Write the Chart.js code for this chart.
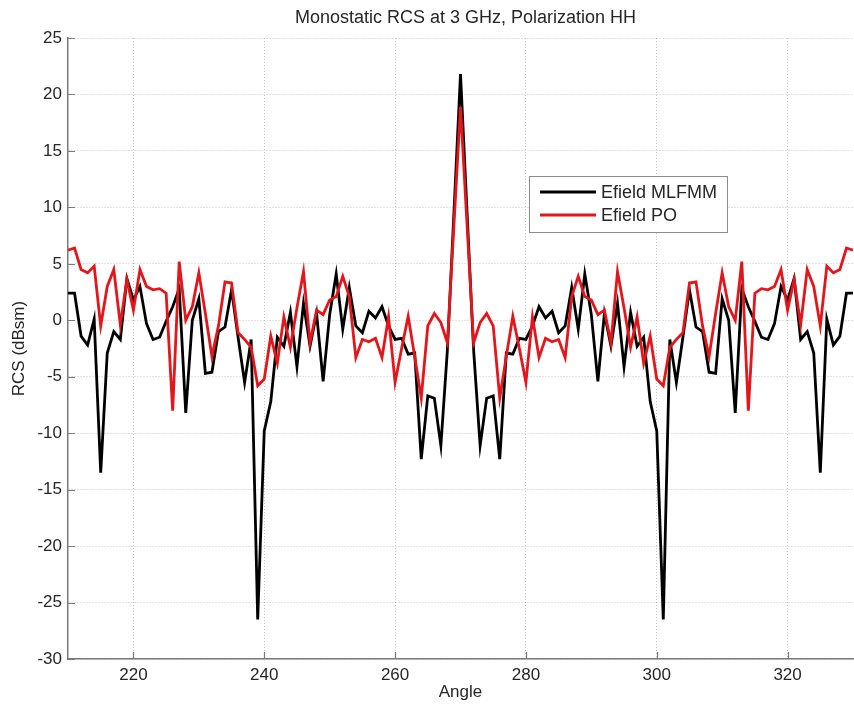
<!DOCTYPE html>
<html lang="en">
<head>
    <meta charset="UTF-8">
    <title>Monostatic RCS at 3 GHz, Polarization HH</title>
    <script src="https://cdn.jsdelivr.net/npm/chart.js"></script>
    <style>
        html, body {
            margin: 0;
            padding: 0;
            background: #fff;
        }
        canvas {
            display: block;
        }
    </style>
</head>
<body>
    <canvas id="rcsChart" width="854" height="709"></canvas>

    <script>
        // angles in degrees, 1 degree step
        const angles = [
            210, 211, 212, 213, 214, 215, 216, 217, 218, 219,
            220, 221, 222, 223, 224, 225, 226, 227, 228, 229,
            230, 231, 232, 233, 234, 235, 236, 237, 238, 239,
            240, 241, 242, 243, 244, 245, 246, 247, 248, 249,
            250, 251, 252, 253, 254, 255, 256, 257, 258, 259,
            260, 261, 262, 263, 264, 265, 266, 267, 268, 269,
            270, 271, 272, 273, 274, 275, 276, 277, 278, 279,
            280, 281, 282, 283, 284, 285, 286, 287, 288, 289,
            290, 291, 292, 293, 294, 295, 296, 297, 298, 299,
            300, 301, 302, 303, 304, 305, 306, 307, 308, 309,
            310, 311, 312, 313, 314, 315, 316, 317, 318, 319,
            320, 321, 322, 323, 324, 325, 326, 327, 328, 329,
            330
        ];

        // Efield MLFMM (dBsm)
        const mlfmm = [
            2.4, 2.4, -1.4, -2.2, 0.1, -13.5, -2.9, -1.0, -1.7, 3.7,
            1.8, 3.0, -0.3, -1.7, -1.5, -0.1, 1.2, 2.8, -8.2, 0.0,
            1.9, -4.7, -4.6, -1.0, -0.6, 2.7, -1.5, -5.5, -1.7, -26.5,
            -9.8, -7.2, -1.5, -2.3, 0.7, -4.1, 1.5, -2.3, 0.6, -5.4,
            0.5, 4.1, -0.8, 2.9, -0.5, -1.1, 0.8, 0.2, 1.2, -0.5,
            -1.7, -1.6, -3.0, -2.9, -12.3, -6.7, -6.9, -11.1, -2.6, 9.6,
            21.8, 9.6, -2.6, -11.1, -6.9, -6.7, -12.3, -2.9, -3.0, -1.6,
            -1.7, -0.5, 1.2, 0.2, 0.8, -1.1, -0.5, 2.9, -0.8, 4.1,
            0.5, -5.4, 0.6, -2.3, 1.5, -4.1, 0.7, -2.3, -1.5, -7.2,
            -9.8, -26.5, -1.7, -5.5, -1.5, 2.7, -0.6, -1.0, -4.6, -4.7,
            1.9, 0.0, -8.2, 2.8, 1.2, -0.1, -1.5, -1.7, -0.3, 3.0,
            1.8, 3.7, -1.7, -1.0, -2.9, -13.5, 0.1, -2.2, -1.4, 2.4,
            2.4
        ];

        // Efield PO (dBsm)
        const po = [
            6.2, 6.4, 4.5, 4.2, 4.8, -0.5, 3.0, 4.5, -0.4, 3.6,
            0.9, 4.5, 3.0, 2.7, 2.8, 2.4, -8.0, 5.2, 0.0, 1.2,
            4.2, 0.6, -3.2, -0.5, 3.4, 3.3, -1.1, -1.7, -2.4, -5.8,
            -5.2, -1.4, -3.8, 0.3, -2.4, 1.1, 4.3, -2.0, 0.9, 0.5,
            1.8, 2.1, 3.9, 2.1, -3.3, -1.7, -1.9, -1.6, -3.3, 0.3,
            -5.5, -2.5, 0.35, -3.2, -6.9, -0.5, 0.6, -0.2, -2.0, 8.5,
            18.9, 8.5, -2.0, -0.2, 0.6, -0.5, -6.9, -3.2, 0.35, -2.5,
            -5.5, 0.3, -3.3, -1.6, -1.9, -1.7, -3.3, 2.1, 3.9, 2.1,
            1.8, 0.5, 0.9, -2.0, 4.3, 1.1, -2.4, 0.3, -3.8, -1.4,
            -5.2, -5.8, -2.4, -1.7, -1.1, 3.3, 3.4, -0.5, -3.2, 0.6,
            4.2, 1.2, 0.0, 5.2, -8.0, 2.4, 2.8, 2.7, 3.0, 4.5,
            0.9, 3.6, -0.4, 4.5, 3.0, -0.5, 4.8, 4.2, 4.5, 6.4,
            6.2
        ];

        const xTicks = [220, 240, 260, 280, 300, 320];
        const yTicks = [-30, -25, -20, -15, -10, -5, 0, 5, 10, 15, 20, 25];

        const seriesNames = ['Efield MLFMM', 'Efield PO'];
        const seriesColors = ['#000000', '#e3161b'];
        const chartTitle = 'Monostatic RCS at 3 GHz, Polarization HH';

        const FONT = '"Liberation Sans", Arial, sans-serif';
        const TEXT = '#262626';
        const AXIS = '#7a7a7a';

        const toPoints = vals => angles.map((a, i) => ({ x: a, y: vals[i] }));

        // title + matlab style inner ticks + legend box
        const decorations = {
            id: 'decorations',
            afterDraw(chart) {
                const { ctx, chartArea, scales } = chart;
                ctx.save();

                // inner tick marks
                ctx.strokeStyle = AXIS;
                ctx.lineWidth = 1.2;
                ctx.beginPath();
                xTicks.forEach(v => {
                    const px = Math.round(scales.x.getPixelForValue(v)) + 0.5;
                    ctx.moveTo(px, chartArea.bottom);
                    ctx.lineTo(px, chartArea.bottom - 7);
                });
                yTicks.forEach(v => {
                    const py = Math.round(scales.y.getPixelForValue(v)) + 0.5;
                    ctx.moveTo(chartArea.left, py);
                    ctx.lineTo(chartArea.left + 7, py);
                });
                ctx.stroke();

                // title
                ctx.fillStyle = TEXT;
                ctx.font = '18px ' + FONT;
                ctx.textAlign = 'center';
                ctx.textBaseline = 'middle';
                ctx.fillText(chartTitle, (chartArea.left + chartArea.right) / 2 + 5, 18);

                // legend
                const bx = 529, by = 176, bw = 198, bh = 56;
                ctx.fillStyle = '#fff';
                ctx.fillRect(bx, by, bw, bh);
                ctx.strokeStyle = '#8c8c8c';
                ctx.lineWidth = 1;
                ctx.strokeRect(bx + 0.5, by + 0.5, bw, bh);
                ctx.textAlign = 'left';
                ctx.font = '18px ' + FONT;
                seriesNames.forEach((name, i) => {
                    const ly = by + 16 + i * 23;
                    ctx.strokeStyle = seriesColors[i];
                    ctx.lineWidth = 3;
                    ctx.beginPath();
                    ctx.moveTo(bx + 11, ly);
                    ctx.lineTo(bx + 67, ly);
                    ctx.stroke();
                    ctx.fillStyle = TEXT;
                    ctx.fillText(name, bx + 72, ly + 1);
                });

                ctx.restore();
            }
        };

        const ctx = document.getElementById('rcsChart').getContext('2d');
        new Chart(ctx, {
            type: 'line',
            data: {
                datasets: [
                    {
                        label: seriesNames[0],
                        data: toPoints(mlfmm),
                        borderColor: seriesColors[0],
                        borderWidth: 2.8,
                        pointRadius: 0,
                        tension: 0,
                        order: 2
                    },
                    {
                        label: seriesNames[1],
                        data: toPoints(po),
                        borderColor: seriesColors[1],
                        borderWidth: 2.8,
                        pointRadius: 0,
                        tension: 0,
                        order: 1
                    }
                ]
            },
            options: {
                responsive: false,
                animation: false,
                layout: {
                    padding: { top: 38, right: 1, left: 0, bottom: 0 }
                },
                plugins: {
                    legend: { display: false },
                    tooltip: { enabled: false }
                },
                scales: {
                    x: {
                        type: 'linear',
                        min: 210,
                        max: 330,
                        afterBuildTicks: scale => {
                            scale.ticks = xTicks.map(v => ({ value: v }));
                        },
                        afterFit: scale => { scale.height = 50; },
                        grid: {
                            color: 'rgba(0,0,0,0.22)',
                            lineWidth: 1,
                            drawTicks: false
                        },
                        border: { color: AXIS, width: 1.5, dash: [1, 2] },
                        ticks: {
                            color: TEXT,
                            padding: 6,
                            maxRotation: 0,
                            font: { family: FONT, size: 17 }
                        },
                        title: {
                            display: true,
                            text: 'Angle',
                            color: TEXT,
                            padding: { top: 0, bottom: 6 },
                            font: { family: FONT, size: 17 }
                        }
                    },
                    y: {
                        type: 'linear',
                        min: -30,
                        max: 25,
                        afterBuildTicks: scale => {
                            scale.ticks = yTicks.map(v => ({ value: v }));
                        },
                        afterFit: scale => { scale.width = 68; },
                        grid: {
                            color: 'rgba(0,0,0,0.22)',
                            lineWidth: 1,
                            drawTicks: false
                        },
                        border: { color: AXIS, width: 1.5, dash: [1, 2] },
                        ticks: {
                            color: TEXT,
                            padding: 6,
                            font: { family: FONT, size: 17 }
                        },
                        title: {
                            display: true,
                            text: 'RCS (dBsm)',
                            color: TEXT,
                            padding: { top: 9, bottom: 0 },
                            font: { family: FONT, size: 17 }
                        }
                    }
                }
            },
            plugins: [decorations]
        });
    </script>
</body>
</html>
